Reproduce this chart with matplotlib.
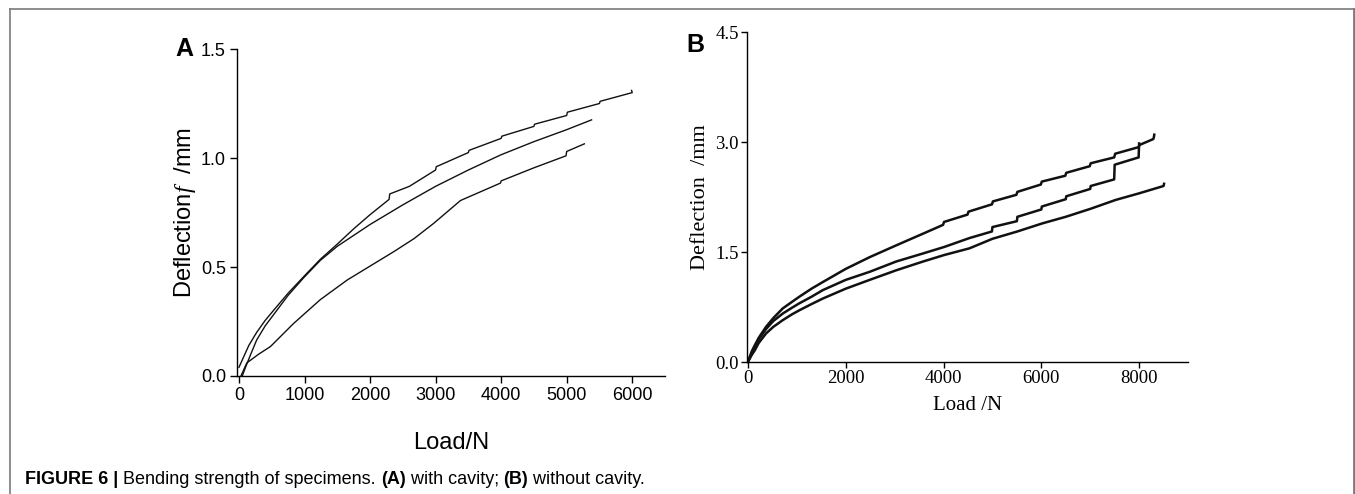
import numpy as np
import matplotlib
matplotlib.use("Agg")
from matplotlib import pyplot as plt
from matplotlib.lines import Line2D

# ---- panel A : with cavity ----
a_load_1 = [0, 60, 150, 270, 400, 525, 750, 985, 1240, 1500, 1750, 2000, 2290, 2300, 2600,
            3000, 3010, 3500, 3510, 4000, 4010, 4500, 4510, 5000, 5010, 5500, 5510, 6000, 5990]
a_defl_1 = [0.04, 0.08, 0.14, 0.20, 0.255, 0.30, 0.38, 0.455, 0.535, 0.605, 0.675, 0.74, 0.81, 0.835, 0.87,
            0.945, 0.96, 1.025, 1.035, 1.09, 1.10, 1.145, 1.155, 1.195, 1.21, 1.25, 1.26, 1.30, 1.31]
a_load_2 = [50, 100, 180, 270, 400, 525, 750, 985, 1240, 1500, 1750, 2000, 2500, 3000, 3500,
            4000, 4500, 5000, 5380]
a_defl_2 = [0.0, 0.04, 0.10, 0.165, 0.23, 0.28, 0.37, 0.45, 0.53, 0.595, 0.645, 0.695, 0.785, 0.87, 0.945,
            1.015, 1.075, 1.13, 1.175]
a_load_3 = [30, 120, 300, 480, 830, 1240, 1650, 1950, 2360, 2670, 2970, 3380, 3990, 4000,
            4500, 4990, 5000, 5270]
a_defl_3 = [0.0, 0.06, 0.10, 0.135, 0.24, 0.35, 0.44, 0.495, 0.57, 0.63, 0.70, 0.805, 0.885, 0.895,
            0.955, 1.01, 1.03, 1.065]

# ---- panel B : without cavity ----
b_load_1 = [0, 30, 80, 140, 220, 370, 520, 710, 900, 1050, 1300, 1530, 2000, 2490, 3030, 3580,
            3990, 4010, 4490, 4510, 4990, 5010, 5490, 5510, 5990, 6010, 6490, 6510, 6990, 7010,
            7490, 7510, 7990, 8010, 8290, 8300, 8310]
b_defl_1 = [0, 0.06, 0.15, 0.23, 0.33, 0.48, 0.60, 0.73, 0.82, 0.89, 1.0, 1.09, 1.27, 1.43, 1.59, 1.75,
            1.87, 1.91, 2.01, 2.05, 2.15, 2.19, 2.28, 2.32, 2.42, 2.46, 2.54, 2.58, 2.67, 2.71,
            2.79, 2.84, 2.93, 2.96, 3.04, 3.06, 3.10]
b_load_2 = [0, 30, 80, 140, 220, 370, 520, 710, 900, 1050, 1300, 1530, 2000, 2490, 3030, 3580,
            4020, 4530, 4990, 5000, 5500, 5510, 6000, 6010, 6500, 6510, 7000, 7010, 7490, 7500,
            7990, 8000]
b_defl_2 = [0, 0.05, 0.12, 0.20, 0.31, 0.45, 0.56, 0.66, 0.74, 0.80, 0.89, 0.98, 1.12, 1.23, 1.37, 1.48,
            1.57, 1.69, 1.78, 1.84, 1.92, 1.98, 2.08, 2.12, 2.22, 2.26, 2.36, 2.40, 2.49, 2.69,
            2.79, 2.98]
b_load_3 = [0, 30, 80, 140, 220, 370, 520, 710, 900, 1050, 1300, 1530, 2000, 2490, 3030, 3580,
            4020, 4530, 5000, 5510, 6020, 6500, 7010, 7520, 8000, 8500, 8510]
b_defl_3 = [0, 0.04, 0.10, 0.16, 0.26, 0.39, 0.48, 0.57, 0.65, 0.705, 0.79, 0.865, 1.0, 1.12, 1.25, 1.37,
            1.46, 1.55, 1.68, 1.78, 1.89, 1.98, 2.09, 2.21, 2.30, 2.40, 2.43]

a_xticks = [0, 1000, 2000, 3000, 4000, 5000, 6000]
a_yticks = [0.0, 0.5, 1.0, 1.5]
b_xticks = [0, 2000, 4000, 6000, 8000]
b_yticks = [0.0, 1.5, 3.0, 4.5]

plt.rcParams['mathtext.fontset'] = 'custom'
plt.rcParams['mathtext.it'] = 'Liberation Serif:italic'

fig = plt.figure(figsize=(13.55, 4.94), dpi=100)

# outer frame (top + left + right, no bottom)
W, H = 1355, 494
fc = '#7a7a7a'
fig.add_artist(Line2D([10 / W, 10 / W], [0, 1 - 9 / H], color=fc, lw=1.2, transform=fig.transFigure))
fig.add_artist(Line2D([10 / W, 1353.5 / W], [1 - 9 / H, 1 - 9 / H], color=fc, lw=1.2, transform=fig.transFigure))
fig.add_artist(Line2D([1353.5 / W, 1353.5 / W], [0, 1 - 9 / H], color=fc, lw=2, transform=fig.transFigure))

# ---------- A ----------
sans = 'Liberation Sans'
axA = fig.add_axes([237 / W, 1 - 376 / H, (665 - 237) / W, (376 - 49) / H])
for x, y in [(a_load_1, a_defl_1), (a_load_2, a_defl_2), (a_load_3, a_defl_3)]:
    axA.plot(x, y, color='#111111', lw=1.0)
axA.set_xlim(-30, 6500)
axA.set_ylim(0, 1.5)
axA.set_xticks(a_xticks)
axA.set_yticks(a_yticks)
axA.set_yticklabels(['%.1f' % v for v in a_yticks])
axA.spines['top'].set_visible(False)
axA.spines['right'].set_visible(False)
for s in ['left', 'bottom']:
    axA.spines[s].set_linewidth(1.0)
axA.tick_params(direction='out', length=5, width=1.0, labelsize=13, pad=3)
for lab in axA.get_xticklabels() + axA.get_yticklabels():
    lab.set_fontfamily(sans)
axA.set_xlabel('Load/N', fontsize=17, fontfamily=sans, labelpad=20)
axA.set_ylabel(r'Deflection$f$  /mm', fontsize=17, fontfamily=sans, labelpad=2)
fig.text(175 / W, 1 - 56 / H, 'A', fontsize=18, fontweight='bold', fontfamily=sans,
         ha='left', va='baseline')

# ---------- B ----------
serif = 'Liberation Serif'
axB = fig.add_axes([747 / W, 1 - 362 / H, (1188 - 747) / W, (362 - 32) / H])
for x, y in [(b_load_1, b_defl_1), (b_load_2, b_defl_2), (b_load_3, b_defl_3)]:
    axB.plot(x, y, color='#111111', lw=1.8)
axB.set_xlim(-20, 9000)
axB.set_ylim(0, 4.5)
axB.set_xticks(b_xticks)
axB.set_yticks(b_yticks)
axB.set_yticklabels(['%.1f' % v for v in b_yticks])
axB.spines['top'].set_visible(False)
axB.spines['right'].set_visible(False)
for s in ['left', 'bottom']:
    axB.spines[s].set_linewidth(1.0)
axB.tick_params(direction='out', length=4, width=1.0, labelsize=13.5, pad=2)
for lab in axB.get_xticklabels() + axB.get_yticklabels():
    lab.set_fontfamily(serif)
axB.set_xlabel('Load /N', fontsize=15, fontfamily=serif, labelpad=6)
axB.set_ylabel('Deflection  /mm', fontsize=16, fontfamily=serif, labelpad=4)
fig.text(686 / W, 1 - 52 / H, 'B', fontsize=18, fontweight='bold', fontfamily=sans,
         ha='left', va='baseline')

# ---------- caption ----------
pieces = [('FIGURE 6 | ', 'bold'), ('Bending strength of specimens. ', 'normal'),
          ('(A)', 'bold'), (' with cavity; ', 'normal'), ('(B)', 'bold'),
          (' without cavity.', 'normal')]
renderer = fig.canvas.get_renderer()
xpos = 25
for txt, wt in pieces:
    t = fig.text(xpos / W, 1 - 484 / H, txt, fontsize=13, fontweight=wt, fontfamily=sans,
                 ha='left', va='baseline')
    bb = t.get_window_extent(renderer=renderer)
    xpos += bb.width

fig.savefig('out.png', dpi=100)
